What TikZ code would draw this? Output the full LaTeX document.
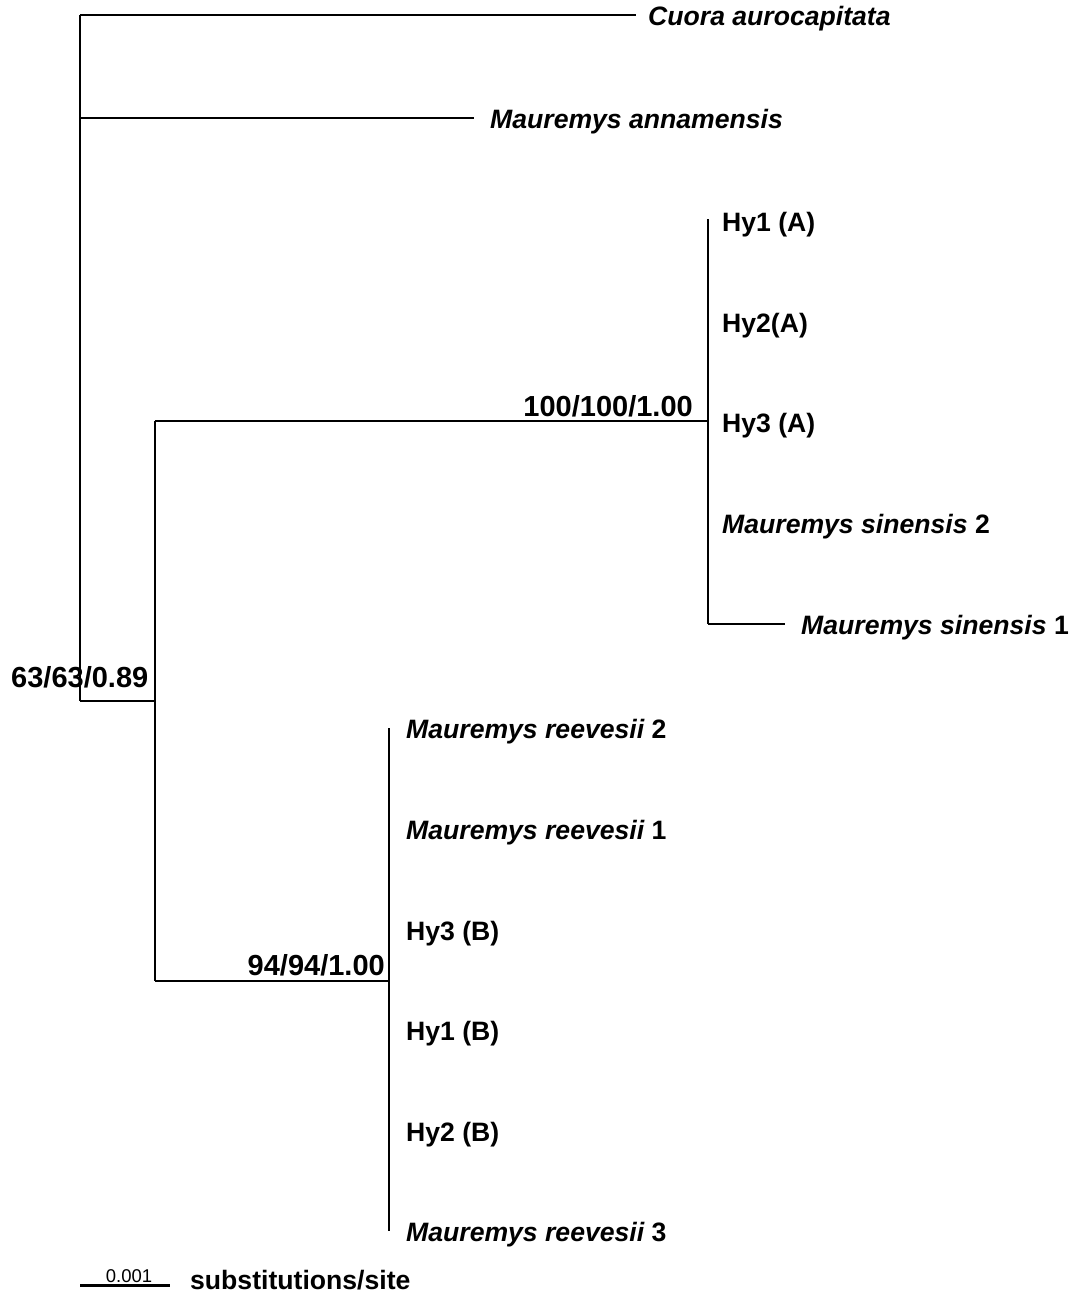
\documentclass[tikz,border=0pt]{standalone}
\usepackage{fontspec}
\setmainfont{Liberation Sans}
\begin{document}
\begin{tikzpicture}[x=1pt,y=-1pt,
  br/.style={line width=2.5pt},
  tip/.style={anchor=base west,inner sep=0pt,font=\fontsize{26.6}{28}\selectfont\bfseries},
  sup/.style={inner sep=0pt,font=\fontsize{29}{30}\selectfont\bfseries}]
\useasboundingbox (0,0) rectangle (1073,1295);
% internal nodes
\coordinate (root) at (80,701);
\coordinate (rtop) at (80,15);
\coordinate (n1) at (155,701);
\coordinate (n1t) at (155,421);
\coordinate (n1b) at (155,981);
\coordinate (a) at (708,421);
\coordinate (at) at (708,219);
\coordinate (ab) at (708,624);
\coordinate (b) at (389,981);
\coordinate (bt) at (389,728);
\coordinate (bb) at (389,1231);
% tips
\coordinate (t1) at (636,15);
\coordinate (t2) at (474,118);
\coordinate (t3) at (785,624);
\coordinate (r118) at (80,118);
% labels
\node[tip] (l1) at (648,25.5) {\itshape Cuora aurocapitata};
\node[tip] (l2) at (490,128.5) {\itshape Mauremys annamensis};
\node[tip] (l3) at (722,231) {Hy1 (A)};
\node[tip] (l4) at (722,332) {Hy2(A)};
\node[tip] (l5) at (722,432.5) {Hy3 (A)};
\node[tip] (l6) at (722,533) {\itshape Mauremys sinensis\upshape\ 2};
\node[tip] (l7) at (801,634) {\itshape Mauremys sinensis\upshape\ 1};
\node[tip] (l8) at (406,738) {\itshape Mauremys reevesii\upshape\ 2};
\node[tip] (l9) at (406,839) {\itshape Mauremys reevesii\upshape\ 1};
\node[tip] (l10) at (406,940) {Hy3 (B)};
\node[tip] (l11) at (406,1040) {Hy1 (B)};
\node[tip] (l12) at (406,1141) {Hy2 (B)};
\node[tip] (l13) at (406,1241) {\itshape Mauremys reevesii\upshape\ 3};
% support values
\node[sup,anchor=base east] (s1) at (693,416) {100/100/1.00};
\node[sup,anchor=base east] (s2) at (385,975) {94/94/1.00};
\node[sup,anchor=base west] (s3) at (11,687) {63/63/0.89};
% branches
\draw[br] (rtop) -- (root);
\draw[br] (rtop) -- (t1);
\draw[br] (r118) -- (t2);
\draw[br] (root) -- (n1);
\draw[br] (n1t) -- (n1b);
\draw[br] (n1t) -- (a);
\draw[br] (at) -- (ab);
\draw[br] (ab) -- (t3);
\draw[br] (n1b) -- (b);
\draw[br] (bt) -- (bb);
% scale bar
\coordinate (sb1) at (80,1285.5);
\coordinate (sb2) at (170,1285.5);
\draw[line width=2.1pt] (sb1) -- (sb2);
\node[inner sep=0pt,anchor=base,font=\fontsize{18.5}{20}\selectfont] (sbl) at (129,1282.5) {0.001};
\node[tip] (sbt) at (190,1289.5) {substitutions/site};
\end{tikzpicture}
\end{document}
